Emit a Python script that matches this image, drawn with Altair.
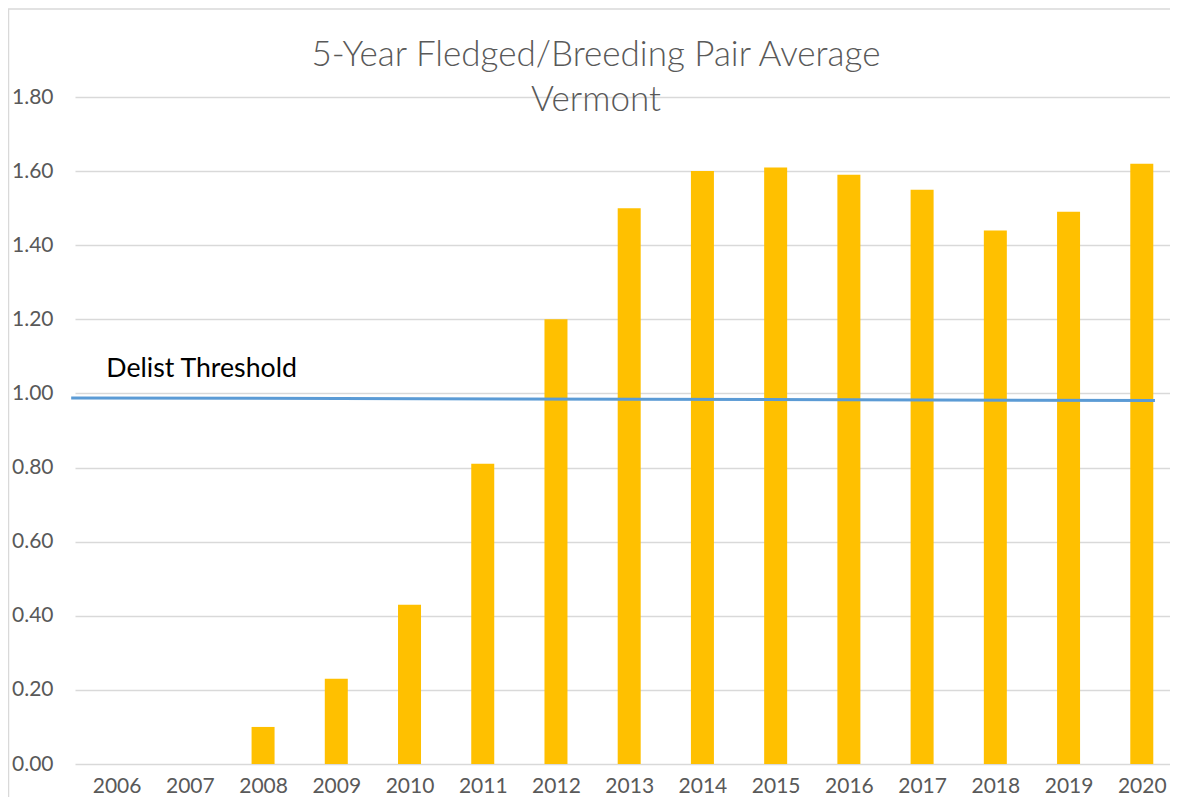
import altair as alt
import pandas as pd

# ---- data ----
years = [2006, 2007, 2008, 2009, 2010, 2011, 2012, 2013, 2014, 2015, 2016, 2017, 2018, 2019, 2020]
averages = [0.0, 0.0, 0.10, 0.23, 0.43, 0.81, 1.20, 1.50, 1.60, 1.61, 1.59, 1.55, 1.44, 1.49, 1.62]

threshold_x = [2005.38, 2020.18]
threshold_y = [0.988, 0.981]
threshold_label = ["Delist Threshold"]
threshold_label_x = [2005.86]
threshold_label_y = [1.045]

y_ticks = [0.0, 0.2, 0.4, 0.6, 0.8, 1.0, 1.2, 1.4, 1.6, 1.8]
title_lines = ["5-Year Fledged/Breeding Pair Average", "Vermont"]

bars_df = pd.DataFrame({"year": years, "avg": averages})
thr_df = pd.DataFrame({"year": threshold_x, "avg": threshold_y})
lab_df = pd.DataFrame({"year": threshold_label_x, "avg": threshold_label_y, "text": threshold_label})
title1_df = pd.DataFrame({"text": [title_lines[0]]})
title2_df = pd.DataFrame({"text": [title_lines[1]]})

FONT = "Lato"
GRAY = "#595959"
PLOT_W = 1095
PLOT_H = 667

x_scale = alt.Scale(domain=[2005.5, 2020.317], nice=False, zero=False)
y_scale = alt.Scale(domain=[0, 1.8], nice=False)

x_axis = alt.Axis(values=years, format="d", grid=False, domain=False, ticks=False, tickSize=0,
                  labelFont=FONT, labelFontSize=21, labelColor=GRAY, labelPadding=11, title=None,
                  labelFlush=False)
y_axis = alt.Axis(values=y_ticks, format=".2f", grid=True, gridColor="#d9d9d9", gridWidth=1.3,
                  domain=False, ticks=False, tickSize=0, labelFont=FONT, labelFontSize=21,
                  labelColor=GRAY, labelPadding=22, title=None)

bars = alt.Chart(bars_df).mark_bar(color="#ffc000", size=23).encode(
    x=alt.X("year:Q", scale=x_scale, axis=x_axis),
    y=alt.Y("avg:Q", scale=y_scale, axis=y_axis),
)

line = alt.Chart(thr_df).mark_line(color="#5b9bd5", strokeWidth=3, clip=False).encode(
    x=alt.X("year:Q", scale=x_scale),
    y=alt.Y("avg:Q", scale=y_scale),
)

label = alt.Chart(lab_df).mark_text(align="left", baseline="alphabetic", font=FONT,
                                    fontSize=26.7, color="#000000").encode(
    x=alt.X("year:Q", scale=x_scale),
    y=alt.Y("avg:Q", scale=y_scale),
    text="text:N",
)

title1 = alt.Chart(title1_df).mark_text(align="center", baseline="alphabetic", font=FONT,
                                        fontSize=35, fontWeight=300, color=GRAY).encode(
    x=alt.value(521), y=alt.value(-31), text="text:N"
)
title2 = alt.Chart(title2_df).mark_text(align="center", baseline="alphabetic", font=FONT,
                                        fontSize=35, fontWeight=300, color=GRAY).encode(
    x=alt.value(521), y=alt.value(14), text="text:N"
)

# light chart-area border (decoration)
border_left = alt.Chart(title1_df).mark_rule(color="#d9d9d9", strokeWidth=1.5).encode(
    x=alt.value(-66.5), y=alt.value(-88), y2=alt.value(720)
)
border_top = alt.Chart(title1_df).mark_rule(color="#d9d9d9", strokeWidth=1.5).encode(
    x=alt.value(-67), x2=alt.value(PLOT_W), y=alt.value(-88)
)

chart = alt.layer(border_left, border_top, bars, line, label, title1, title2).properties(
    width=PLOT_W,
    height=PLOT_H,
    padding={"left": 67, "top": 89, "right": 0, "bottom": 33},
    autosize=alt.AutoSizeParams(type="none"),
).configure_view(stroke=None)

chart.save("out.html", embed_options={"renderer": "svg", "actions": False})
